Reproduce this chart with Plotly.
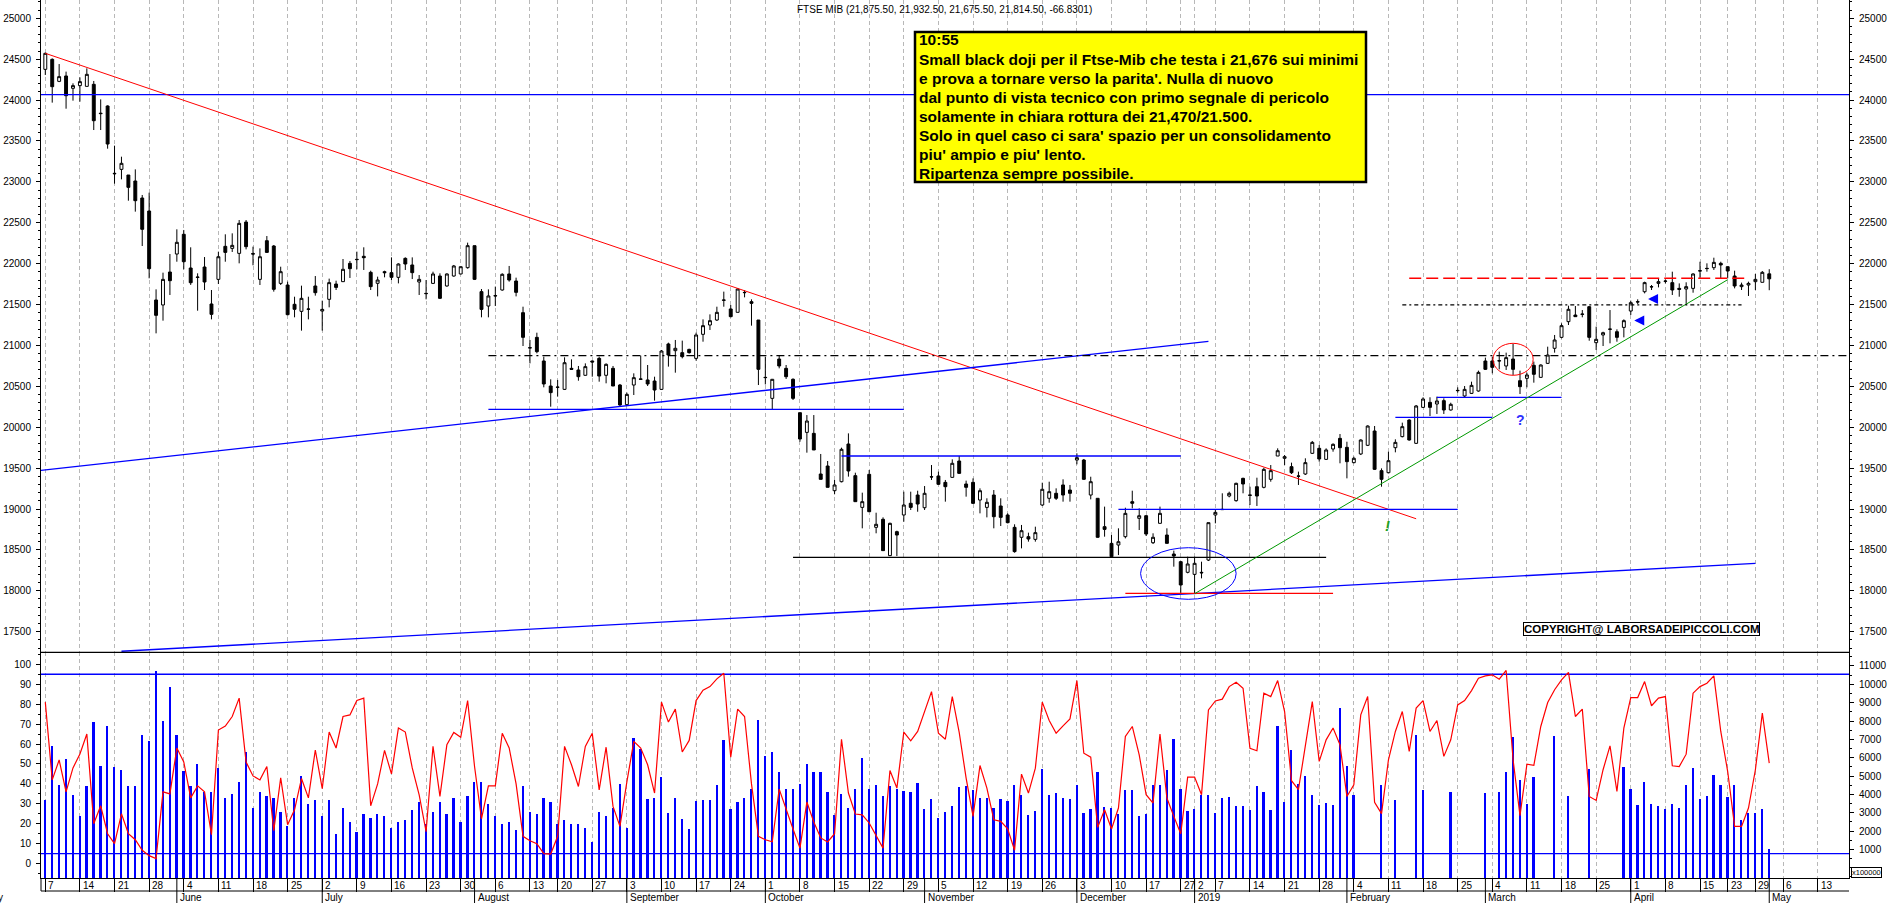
import pandas as pd
import plotly.graph_objects as go

"FTSE MIB - GRAFICO GIORNALIERO CON OSCILLATORE E VOLUMI"

# giorni di chiusura della borsa nel periodo
festivi = ["2018-05-01", "2018-08-15", "2018-12-24", "2018-12-25", "2018-12-26",
           "2018-12-31", "2019-01-01", "2019-04-19", "2019-04-22", "2019-05-01"]
primo_giorno = "2018-05-07"

apertura = [24376, 24498, 24229, 24295, 24144, 24177, 24168, 24193, 23840, 23928,
            23105, 23153, 23084, 23011, 22803, 22644, 21556, 21495, 21898, 22118,
            22359, 21947, 21837, 21959, 21507, 21808, 22212, 22187, 22126, 22509,
            22123, 21808, 22281, 22216, 21759, 21739, 21503, 21417, 21446, 21727,
            21421, 21564, 21751, 21780, 22004, 22053, 22090, 21894, 21760, 21902,
            21890, 21833, 22065, 21984, 21776, 21637, 21759, 21849, 21727, 21849,
            21874, 21951, 22220, 21658, 21482, 21609, 21678, 21874, 21788, 21401,
            20973, 21099, 20810, 20504, 20488, 20463, 20720, 20700, 20635, 20810,
            20842, 20635, 20720, 20516, 20276, 20516, 20590, 20578, 20565, 20463,
            21018, 20936, 20912, 20952, 20842, 21136, 21250, 21311, 21556, 21446,
            21405, 21649, 21535, 21311, 20610, 20353, 20834, 20720, 20586, 20178,
            19937, 19925, 19428, 19526, 19224, 19334, 19795, 19408, 19020, 19424,
            18776, 18874, 18430, 18723, 18927, 19070, 19171, 19016, 19395, 19404,
            19326, 19387, 19587, 19306, 19326, 19110, 19020, 19171, 19037, 18927,
            18776, 18654, 18662, 18629, 19049, 19131, 19192, 19294, 19232, 19599,
            19599, 19171, 19131, 18784, 18580, 18560, 18662, 19090, 18886, 18918,
            18588, 18825, 18682, 18450, 18356, 18226, 18201, 18226, 18376, 18927,
            18996, 19159, 19102, 19375, 19171, 19273, 19265, 19363, 19648, 19620,
            19518, 19404, 19428, 19681, 19742, 19607, 19734, 19864, 19754, 19567,
            19673, 19779, 19954, 19469, 19444, 19750, 19885, 20088, 19803, 20243,
            20304, 20284, 20325, 20211, 20451, 20382, 20414, 20443, 20810, 20810,
            20814, 20749, 20834, 20569, 20598, 20757, 20610, 20781, 20965, 21099,
            21291, 21372, 21384, 21474, 21034, 21128, 21201, 21168, 21221, 21421,
            21535, 21657, 21719, 21759, 21788, 21768, 21698, 21690, 21698, 21914,
            21943, 21951, 22004, 21963, 21849, 21719, 21739, 21780, 21772, 21875.5]

massimo = [24580, 24510, 24441, 24348, 24205, 24278, 24388, 24234, 24009, 23936,
           23443, 23308, 23084, 23153, 22840, 22868, 21686, 21890, 22118, 22420,
           22412, 22200, 21882, 22081, 21678, 22147, 22359, 22371, 22534, 22534,
           22208, 22187, 22338, 22228, 21963, 21780, 21596, 21731, 21596, 21849,
           21548, 21817, 21792, 22057, 22033, 22147, 22200, 21914, 21841, 21914,
           22077, 22004, 22077, 22077, 21861, 21800, 21902, 21882, 21882, 21984,
           21963, 22257, 22220, 21690, 21686, 21720, 21882, 21972, 21829, 21474,
           21067, 21156, 20863, 20586, 20578, 20855, 20830, 20749, 20781, 20814,
           20863, 20781, 20749, 20529, 20423, 20659, 20875, 20761, 20618, 20944,
           21034, 21067, 21059, 20960, 21156, 21319, 21380, 21474, 21658, 21495,
           21698, 21678, 21564, 21311, 20863, 20590, 20871, 20761, 20598, 20178,
           20149, 20149, 19673, 19587, 19355, 19750, 19925, 19444, 19200, 19477,
           18955, 18898, 18833, 18735, 19212, 19212, 19224, 19281, 19538, 19457,
           19355, 19607, 19648, 19347, 19375, 19253, 19131, 19232, 19131, 18947,
           18813, 18805, 18711, 18784, 19322, 19334, 19253, 19363, 19294, 19681,
           19612, 19395, 19131, 19029, 18682, 18764, 19016, 19224, 19008, 18927,
           18703, 19029, 18764, 18491, 18364, 18417, 18417, 18356, 18833, 18988,
           19192, 19212, 19322, 19383, 19273, 19383, 19505, 19538, 19742, 19660,
           19567, 19457, 19620, 19832, 19783, 19742, 19803, 19917, 19823, 19640,
           19852, 20023, 20015, 19497, 19701, 19852, 20056, 20097, 20272, 20366,
           20366, 20374, 20353, 20300, 20488, 20504, 20557, 20692, 20851, 20863,
           20924, 20912, 21018, 20692, 20667, 20802, 20769, 20985, 21128, 21270,
           21486, 21482, 21433, 21482, 21230, 21168, 21433, 21197, 21319, 21548,
           21564, 21780, 21739, 21821, 21808, 21902, 21759, 21772, 21882, 22024,
           22004, 22073, 22024, 21963, 21914, 21768, 21780, 21874, 21910, 21932.5]

minimo = [24307, 23969, 24220, 23895, 23993, 23981, 24168, 23634, 23634, 23406,
          22978, 23031, 22770, 22636, 22216, 21821, 21148, 21303, 21617, 22024,
          21931, 21740, 21425, 21678, 21319, 21751, 22024, 22143, 22004, 22175,
          21980, 21739, 22134, 21658, 21739, 21370, 21344, 21181, 21319, 21609,
          21181, 21466, 21678, 21776, 21825, 21931, 21923, 21678, 21600, 21833,
          21800, 21759, 21923, 21812, 21617, 21564, 21751, 21568, 21719, 21841,
          21870, 21939, 21800, 21344, 21344, 21482, 21670, 21780, 21600, 20993,
          20781, 20904, 20488, 20251, 20374, 20455, 20700, 20569, 20631, 20618,
          20557, 20537, 20504, 20260, 20260, 20394, 20578, 20504, 20325, 20455,
          20741, 20667, 20842, 20900, 20814, 21046, 21189, 21299, 21474, 21344,
          21405, 21588, 21242, 20516, 20524, 20219, 20720, 20590, 20333, 19823,
          19689, 19722, 19363, 19265, 19180, 19326, 19396, 19090, 18764, 18967,
          18703, 18491, 18425, 18425, 18845, 18988, 18967, 18988, 19355, 19294,
          19090, 19383, 19428, 19151, 19061, 18947, 18898, 18764, 18792, 18825,
          18466, 18519, 18601, 18601, 19037, 19077, 19110, 19090, 19090, 19546,
          19355, 19118, 18650, 18662, 18417, 18437, 18641, 19008, 18743, 18670,
          18572, 18825, 18580, 18295, 17969, 18214, 17969, 18152, 18364, 18825,
          18988, 19143, 19090, 19192, 19049, 19037, 19253, 19334, 19648, 19538,
          19428, 19294, 19416, 19673, 19579, 19599, 19701, 19559, 19375, 19559,
          19660, 19770, 19477, 19273, 19436, 19693, 19876, 19836, 19795, 20235,
          20137, 20162, 20162, 20203, 20423, 20366, 20406, 20435, 20700, 20659,
          20708, 20700, 20639, 20406, 20488, 20545, 20606, 20773, 20912, 21087,
          21250, 21352, 21344, 21058, 20944, 20993, 21026, 21046, 21099, 21372,
          21507, 21637, 21678, 21710, 21759, 21617, 21596, 21495, 21645, 21821,
          21902, 21923, 21821, 21821, 21698, 21678, 21605, 21678, 21772, 21675.5]

chiusura = [24572, 24164, 24287, 24054, 24177, 24226, 24315, 23748, 23835, 23463,
            23100, 23227, 22933, 22770, 22420, 21939, 21368, 21808, 21792, 22261,
            22024, 21767, 21833, 21776, 21380, 22085, 22138, 22224, 22493, 22208,
            22118, 22085, 22138, 21686, 21902, 21376, 21442, 21576, 21443, 21645,
            21441, 21768, 21710, 21931, 21939, 22050, 22073, 21719, 21800, 21890,
            21833, 21996, 21996, 21890, 21808, 21634, 21874, 21576, 21874, 21972,
            21963, 22220, 21808, 21441, 21605, 21606, 21870, 21800, 21649, 21099,
            20970, 20924, 20529, 20423, 20490, 20789, 20708, 20618, 20741, 20798,
            20626, 20769, 20504, 20272, 20402, 20606, 20587, 20529, 20455, 20932,
            20883, 20965, 20863, 20912, 21128, 21242, 21303, 21405, 21553, 21352,
            21690, 21646, 21515, 20708, 20607, 20586, 20749, 20618, 20353, 19856,
            20076, 19722, 19363, 19265, 19294, 19730, 19465, 19090, 19090, 18967,
            18813, 18491, 18825, 18682, 19049, 19020, 19061, 19192, 19392, 19302,
            19273, 19559, 19436, 19265, 19069, 19224, 19082, 18906, 18898, 18833,
            18479, 18735, 18633, 18711, 19241, 19212, 19131, 19171, 19192, 19628,
            19363, 19334, 18654, 18751, 18417, 18600, 18947, 19070, 18918, 18694,
            18654, 18947, 18580, 18425, 18071, 18328, 18336, 18220, 18833, 18959,
            18993, 19192, 19314, 19306, 19168, 19159, 19485, 19469, 19713, 19640,
            19444, 19401, 19567, 19815, 19612, 19722, 19791, 19750, 19579, 19620,
            19844, 20015, 19485, 19363, 19591, 19815, 20007, 19844, 20260, 20345,
            20243, 20321, 20211, 20280, 20448, 20463, 20512, 20671, 20708, 20732,
            20811, 20851, 20708, 20496, 20639, 20647, 20761, 20883, 21067, 21242,
            21442, 21352, 21381, 21099, 21075, 21156, 21198, 21099, 21303, 21523,
            21532, 21768, 21716, 21780, 21785, 21678, 21686, 21719, 21874, 21911,
            21940, 22016, 21984, 21910, 21727, 21739, 21759, 21808, 21894, 21814.5]

# volumi (scala destra, x100000); None = dato mancante
volumi = [3704, 6645, 4521, 5937, 3977, 2797, 4467, 7915, 5519, 7734,
          5465, 5338, 4430, 4467, 7244, 6881, 10692, 7970, 9821, 7244,
          5247, 4430, 5655, 4133, 4133, 5438, 3807, 4025, 4677, 6307,
          3264, 4133, 3916, 3807, 3046, 2285, 3807, 5003, 3481, 3698,
          2829, 3698, 1850, 3264, 2503, 1959, 2938, 2720, 2938, 2829,
          2177, 2503, 2611, 3155, 3590, 2394, 3046, 3590, 2938, 3807,
          2503, 3916, 4677, 4677, 3481, 2829, 2394, 2503, 2068, 4459,
          3046, 2938, 3807, 3590, 2394, 2611, 2394, 2394, 2177, 1416,
          3046, 2829, 3264, 4568, 2177, 7062, 6463, 3741, 3813, 4920,
          2997, 3813, 2670, 2125, 3650, 3704, 3704, 4485, 6971, 3214,
          3577, 3813, 4303, 8060, 6064, 6300, 5211, 4303, 4303, 4576,
          5665, 5211, 5211, 4122, 2851, 4031, 3251, 4303, 5991, 4303,
          4521, 3922, 4430, 4303, 4194, 4122, 4612, 3214, 3759, 2724,
          3033, 3378, 4376, 4430, 4249, 3813, 3813, 3251, 3759, 3650,
          4521, 3977, 2888, 3105, 5392, 3977, 4067, 3813, 3759, 4521,
          2978, 3214, 5211, 3287, 3251, 2924, 4249, 4249, 2833, 2942,
          4485, 4485, 5338, 7026, 4303, 3069, 3214, 3977, 3977, 2997,
          3813, 3868, 3341, 3341, 3159, 4466, 4103, 3159, 7733, 3558,
          6426, 4575, 5010, 3940, 3431, 3540, 3431, 8713, 5555, 3976,
          None, None, None, 4520, None, 3704, None, None, 7243, 4248,
          None, None, None, 4139, None, None, None, None, 4085, None,
          4139, 5228, 7134, 4792, 3486, 4920, None, None, 7188, None,
          3921, None, None, 5392, None, None, None, None, 5500, 4302,
          3431, 4684, 3486, 3341, 3214, 3487, 3269, 4485, 5447, 3759,
          3886, 5066, 4485, 3850, 4521, 2615, 2997, 2997, 3178, 1000]

# oscillatore (scala sinistra 0-100)
oscillatore = [81, 42, 52, 36, 48, 55, 65, 20, 29, 15,
               10, 25, 15, 12, 6.7, 4, 2.5, 36, 35, 58,
               51, 33, 39, 36, 14.5, 67, 69, 73.8, 83, 51,
               44, 42, 48.7, 16.5, 43, 19.5, 27, 42.7, 33, 57,
               37.6, 66, 58, 73.8, 74.6, 81.8, 83, 29, 40, 56.8,
               45, 68, 66, 48, 34.5, 16, 58.8, 33.7, 59.6, 65.8,
               63.4, 81.8, 48.7, 22.5, 39, 39, 65.4, 58, 40, 13.7,
               11.5, 10, 5, 4.8, 13.7, 58.8, 49.6, 38.7, 58.8, 65.4,
               37, 58.4, 28.7, 18.7, 41, 61.3, 58, 49.6, 35.4, 81,
               71, 77.5, 56, 61.8, 81.8, 87, 88.8, 92.7, 95.5, 53.4,
               77.5, 73.8, 40, 13.7, 12, 11, 37.4, 27, 17.4, 7.8,
               30.9, 20.9, 12.9, 10.9, 15, 62.4, 35.4, 24.9, 24.5, 20.4,
               13.7, 7.8, 46.7, 37.9, 66, 61.6, 66.3, 76.3, 86.3, 65.4,
               62.4, 83.8, 65.8, 42.9, 23.7, 49.2, 37.9, 22, 21.2, 17.5,
               6.7, 44.9, 35.4, 47.9, 81, 71.8, 65.4, 69.1, 72.6, 91.8,
               55.4, 53.4, 18.2, 27, 17.4, 27.9, 63.8, 68.8, 54.6, 34.6,
               30.4, 65, 32.9, 23.7, 15, 43.4, 43.4, 34.6, 77.1, 81.6,
               82.5, 88.8, 91, 88, 57.8, 56.6, 85.5, 83.8, 91.8, 76.3,
               41.6, 37.1, 58.8, 81.3, 51.3, 62.1, 68, 59.6, 33.7, 39.6,
               74.6, 83.8, 30.7, 25.1, 52.1, 66.3, 76.3, 56.3, 78, 81.8,
               66.3, 71.8, 53.8, 62.1, 79.6, 81.8, 86.8, 93, 94.2, 94.7,
               92.5, 96.9, 52.1, 24.1, 49.9, 49.3, 68.8, 80.8, 87.2, 92.2,
               95.9, 73.8, 77.5, 33.7, 31.7, 47.1, 59.1, 36.2, 68, 83.3,
               83.3, 91.3, 79.2, 83, 83.8, 49.1, 48.7, 54.9, 85.5, 88.8,
               90.5, 94.2, 66.3, 46.2, 18.7, 18.7, 27.9, 47.1, 75.5, 50.4]
livelli_oscillatore = [5, 95]

# linee tracciate sul grafico (data, prezzo)
orizz_blu_alta = [("2018-05-04", 24066), ("2019-05-24", 24066)]
trend_rossa = [("2018-05-07", 24572), ("2019-02-15", 18881)]
trend_blu_lunga = [("2018-05-22", 17261), ("2019-04-29", 18336)]
trend_blu_media = [("2018-05-04", 19469), ("2019-01-04", 21049)]
livelli_blu = [[("2018-08-03", 20218), ("2018-10-29", 20218)],
               [("2018-10-16", 19648), ("2018-12-27", 19648)],
               [("2018-12-11", 18996), ("2019-02-25", 18996)],
               [("2019-02-12", 20121), ("2019-03-04", 20121)],
               [("2019-02-20", 20366), ("2019-03-18", 20366)]]
livello_nero = [("2018-10-05", 18409), ("2019-01-29", 18409)]
livello_rosso = [("2018-12-12", 17969), ("2019-01-30", 17969)]
trend_verde = [("2019-01-02", 17964), ("2019-04-23", 21804)]
tratteggio_lungo = [("2018-08-03", 20875), ("2019-05-24", 20875)]
tratteggio_corto = [("2019-02-13", 21495), ("2019-04-25", 21495)]
tratteggio_rosso = [("2019-02-14", 21821), ("2019-04-26", 21821)]

# ellisse blu sui minimi di dicembre e cerchio rosso di marzo (indice giorno, prezzo)
ellisse_blu = (158.2, 172.0, 17896, 18527)
cerchio_rosso = (209.1, 214.9, 20635, 21026)
punto_esclamativo = (193.9, 18804)
punto_domanda = (213.0, 20089)
frecce = [(231.5, 21568), (229.5, 21305)]

titolo = "FTSE MIB (21,875.50, 21,932.50, 21,675.50, 21,814.50, -66.8301)"
testo_box = ["10:55",
             "Small black doji per il Ftse-Mib che testa i 21,676 sui minimi",
             "e prova a tornare verso la parita'. Nulla di nuovo",
             "dal punto di vista tecnico con primo segnale di pericolo",
             "solamente in chiara rottura dei 21,470/21.500.",
             "Solo in quel caso ci sara' spazio per un consolidamento",
             "piu' ampio e piu' lento.",
             "Ripartenza sempre possibile."]
copyright = "COPYRIGHT@ LABORSADEIPICCOLI.COM"
nomi_mesi = ["2019", "February", "March", "April", "May", "June", "July",
             "August", "September", "October", "November", "December"]

"CALENDARIO DI BORSA"

calendario = [d for d in pd.bdate_range("2018-04-30", "2019-05-31")
              if d.strftime("%Y-%m-%d") not in festivi]
chiavi = [d.strftime("%Y-%m-%d") for d in calendario]
zero = chiavi.index(primo_giorno)
pos = {k: n - zero for n, k in enumerate(chiavi)}
giorni = list(range(len(apertura)))

X_MIN, X_MAX = -0.621, 260.52
P_MIN, P_MAX = 17248, 25224
V_MIN, V_MAX = -557, 11746
O_MIN, O_MAX = -7.2, 106.0
SEP = (878 - 652.3) / 878


def xp(i):
    return (i - X_MIN) / (X_MAX - X_MIN)


def px_x(p):
    return (p - 41) / 1808


def px_y(p):
    return (878 - p) / 878


settimane, mesi = [], []
for n in range(1, len(calendario)):
    d, prima = calendario[n], calendario[n - 1]
    i = n - zero
    if d.isocalendar()[1] != prima.isocalendar()[1] and X_MIN <= i <= X_MAX:
        settimane.append((i, d))
    if d.month != prima.month:
        mesi.append((i, d))

"VISUALIZZAZIONE"

fig = go.Figure()

fig.add_trace(go.Candlestick(
    x=giorni, open=apertura, high=massimo, low=minimo, close=chiusura,
    increasing=dict(fillcolor="white", line=dict(color="black", width=1)),
    decreasing=dict(fillcolor="black", line=dict(color="black", width=1)),
    whiskerwidth=0, hoverinfo="skip", xaxis="x", yaxis="y"
))


def linea(punti, colore, tratto="solid", spessore=1):
    fig.add_trace(go.Scatter(
        x=[pos[d] for d, _ in punti], y=[p for _, p in punti], mode="lines",
        line=dict(color=colore, width=spessore, dash=tratto),
        hoverinfo="skip", xaxis="x", yaxis="y2"
    ))


linea(orizz_blu_alta, "#0000ff", spessore=1.3)
linea(trend_rossa, "#ff0000")
linea(trend_blu_lunga, "#0000ff", spessore=1.3)
linea(trend_blu_media, "#0000ff", spessore=1.3)
for tratto_blu in livelli_blu:
    linea(tratto_blu, "#0000ff", spessore=1.3)
linea(livello_nero, "black", spessore=1.3)
linea(livello_rosso, "#ff0000", spessore=1.3)
linea(trend_verde, "#009900")
linea(tratteggio_lungo, "black", "8px,4px,2px,4px", 1.3)
linea(tratteggio_corto, "black", "4px,3px,2px,3px", 1.3)
linea(tratteggio_rosso, "#ff0000", "12px,5px", 1.5)

fig.add_trace(go.Bar(
    x=giorni, y=[None if v is None else v - V_MIN for v in volumi], base=V_MIN,
    width=0.25, marker=dict(color="#0000ff", line=dict(width=0)),
    hoverinfo="skip", xaxis="x", yaxis="y3"
))

for livello in livelli_oscillatore:
    fig.add_trace(go.Scatter(
        x=[X_MIN - 1, X_MAX + 1], y=[livello, livello], mode="lines",
        line=dict(color="#0000ff", width=1.3), hoverinfo="skip",
        xaxis="x", yaxis="y4"
    ))

fig.add_trace(go.Scatter(
    x=giorni, y=oscillatore, mode="lines", line=dict(color="#ff0000", width=1.2),
    hoverinfo="skip", xaxis="x", yaxis="y4"
))

assi_y = dict(showgrid=False, zeroline=False, showline=True, linecolor="black",
              linewidth=1, ticks="outside", ticklen=4, tickcolor="black",
              ticklabelstandoff=3, tickfont=dict(size=10))

shapes = [
    dict(type="line", xref="paper", yref="paper", x0=0, x1=1, y0=SEP, y1=SEP,
         line=dict(color="black", width=1.3)),
    dict(type="line", xref="paper", yref="paper", x0=0, x1=1,
         y0=px_y(891), y1=px_y(891), line=dict(color="black", width=1)),
    dict(type="line", xref="paper", yref="paper", x0=0, x1=0,
         y0=px_y(891), y1=0, line=dict(color="black", width=1)),
    dict(type="rect", xref="paper", yref="paper", x0=px_x(915), x1=px_x(1366),
         y0=px_y(182), y1=px_y(32), fillcolor="#ffff00",
         line=dict(color="black", width=2.5)),
    dict(type="circle", xref="x", yref="y", x0=ellisse_blu[0], x1=ellisse_blu[1],
         y0=ellisse_blu[2], y1=ellisse_blu[3], line=dict(color="#0000ff", width=1)),
    dict(type="circle", xref="x", yref="y", x0=cerchio_rosso[0], x1=cerchio_rosso[1],
         y0=cerchio_rosso[2], y1=cerchio_rosso[3], line=dict(color="#ff0000", width=1)),
]
for i, d in mesi:
    if X_MIN <= i <= X_MAX:
        shapes.append(dict(type="line", xref="paper", yref="paper", x0=xp(i), x1=xp(i),
                           y0=px_y(903), y1=0, line=dict(color="black", width=1)))

annotations = [
    dict(text=titolo, xref="paper", yref="paper", x=px_x(944), y=px_y(9),
         xanchor="center", yanchor="middle", showarrow=False, font=dict(size=10)),
    dict(text="<b>" + copyright + "</b>", xref="paper", yref="paper",
         x=px_x(1641), y=px_y(629.4), xanchor="center", yanchor="middle",
         showarrow=False, bgcolor="white", bordercolor="black", borderwidth=1,
         borderpad=0, font=dict(size=11.5)),
    dict(text="x100000", xref="paper", yref="paper", x=px_x(1866.7), y=px_y(872.4),
         xanchor="center", yanchor="middle", showarrow=False, bgcolor="white",
         bordercolor="black", borderwidth=1, borderpad=0, font=dict(size=7.5)),
    dict(text="<b><i>!</i></b>", xref="x", yref="y", x=punto_esclamativo[0],
         y=punto_esclamativo[1], showarrow=False, font=dict(size=15, color="#22a022")),
    dict(text="<b>?</b>", xref="x", yref="y", x=punto_domanda[0], y=punto_domanda[1],
         showarrow=False, font=dict(size=14, color="#3030ff")),
]
for k, riga in enumerate(testo_box):
    annotations.append(dict(text="<b>" + riga + "</b>", xref="paper", yref="paper",
                            x=px_x(917), y=px_y(40 + 19.05 * k), xanchor="left",
                            yanchor="middle", showarrow=False,
                            font=dict(size=15.5, color="black")))
for fx, fy in frecce:
    annotations.append(dict(text="", xref="x", yref="y", x=fx, y=fy, ax=11, ay=0,
                            showarrow=True, arrowhead=2, arrowsize=0.8,
                            arrowwidth=2.5, arrowcolor="#0000ff"))
for i, d in settimane:
    annotations.append(dict(text=str(d.day), xref="x", yref="paper", x=i, xshift=1,
                            y=px_y(885), xanchor="left", yanchor="middle",
                            showarrow=False, font=dict(size=10)))
for i, d in mesi:
    nome = nomi_mesi[d.month - 1] if d.month != 1 else str(d.year)
    if X_MIN <= i <= X_MAX:
        annotations.append(dict(text=nome, xref="x", yref="paper", x=i, xshift=1,
                                y=px_y(897.5), xanchor="left", yanchor="middle",
                                showarrow=False, font=dict(size=10)))
    elif i < X_MIN:
        annotations.append(dict(text=nome, xref="paper", yref="paper", x=px_x(5),
                                y=px_y(897.5), xanchor="right", yanchor="middle",
                                showarrow=False, font=dict(size=10)))

fig.update_layout(
    width=1890, height=903,
    margin=dict(l=41, r=41, t=0, b=25),
    paper_bgcolor="white", plot_bgcolor="white",
    showlegend=False, boxgap=0.4, bargap=0,
    font=dict(family="Liberation Sans, Arial, sans-serif", size=10, color="black"),
    xaxis=dict(
        range=[X_MIN, X_MAX], anchor="y3", domain=[0, 1],
        tickvals=[i for i, _ in settimane], ticks="outside", ticklen=13,
        tickcolor="black", showticklabels=False,
        showgrid=True, gridcolor="#b8b8b8", gridwidth=1, griddash="4px,3px",
        showline=True, linecolor="black", zeroline=False,
        rangeslider=dict(visible=False)
    ),
    yaxis=dict(domain=[SEP, 1], range=[P_MIN, P_MAX], anchor="x", side="left",
               dtick=500, tick0=0, tickformat="d",
               minor=dict(ticks="outside", ticklen=2, dtick=100, tick0=0, tickcolor="black"),
               **assi_y),
    yaxis2=dict(domain=[SEP, 1], range=[P_MIN, P_MAX], anchor="x", side="right",
                overlaying="y", dtick=500, tick0=0, tickformat="d",
                minor=dict(ticks="outside", ticklen=2, dtick=100, tick0=0, tickcolor="black"),
                **assi_y),
    yaxis3=dict(domain=[0, SEP], range=[V_MIN, V_MAX], anchor="x", side="right",
                tickmode="array", tickvals=list(range(1000, 11001, 1000)), tickformat="d",
                minor=dict(tickmode="linear", ticks="outside", ticklen=2, dtick=500,
                           tick0=0, tickcolor="black"),
                **assi_y),
    yaxis4=dict(domain=[0, SEP], range=[O_MIN, O_MAX], anchor="x", side="left",
                overlaying="y3", dtick=10, tick0=0, tickformat="d",
                minor=dict(ticks="outside", ticklen=2, dtick=5, tick0=0, tickcolor="black"),
                **assi_y),
    shapes=shapes,
    annotations=annotations,
)

# la pagina html ha un margine di default: lo azzeriamo
fig.write_html("out.html", config={"displayModeBar": False},
               post_script="document.body.style.margin='0px';")
